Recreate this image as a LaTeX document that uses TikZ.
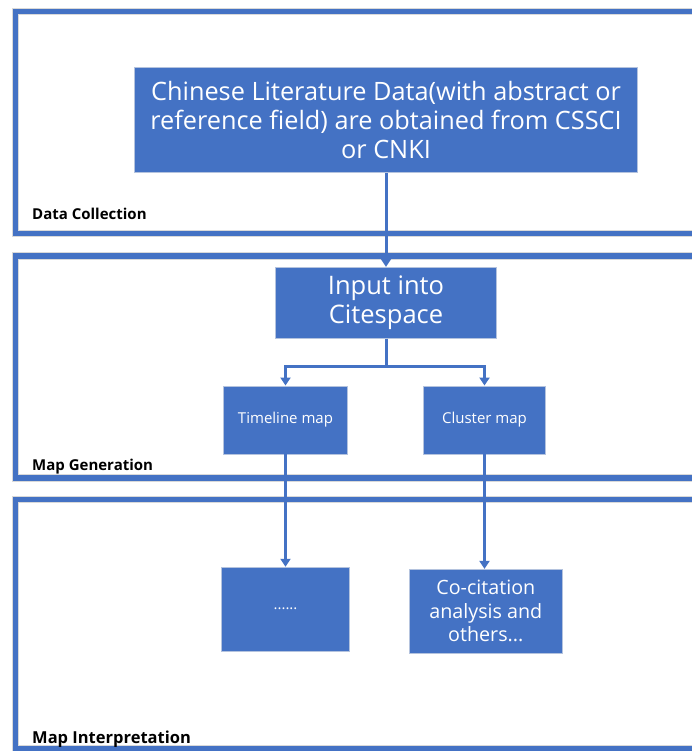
\documentclass[tikz,border=0pt]{standalone}
\usepackage{fontspec}
\setmainfont{Open Sans}
\usetikzlibrary{positioning, arrows.meta}

\definecolor{officeblue}{HTML}{4472C4}
\definecolor{edgeblue}{HTML}{B4C3DE}

\tikzset{
    stage/.style={draw=officeblue, line width=5.2pt,
        preaction={draw=black!15, line width=7.2pt},
        minimum width=714.5pt, inner sep=0pt},
    stagelabel/.style={font=\bfseries\fontsize{15}{18}\selectfont,
        anchor=base west, inner sep=0pt},
    box/.style={fill=officeblue, draw=edgeblue, line width=0.9pt,
        text=white, align=center, inner sep=0pt},
    smalltext/.style={font=\fontsize{15}{18}\selectfont},
    link/.style={draw=officeblue, line width=3pt},
    arrow/.style={link, -{Triangle[width=10pt, length=8pt]}}
}

\begin{document}
\begin{tikzpicture}[x=1pt, y=-1pt]

\clip (0, 0) rectangle (692, 751);
\fill[white] (0, 0) rectangle (692, 751);

% stages
\foreach \name/\cy/\h/\ly/\size/\title in {
    collection/122.7/222/219/15/Data Collection,
    generation/367/222/470/15/Map Generation,
    interpretation/624.3/249.5/743/16.5/Map Interpretation} {
    \node[stage, minimum height=\h pt] (\name) at (372.75, \cy) {};
    \node[stagelabel, font=\bfseries\fontsize{\size}{18}\selectfont] (\name-label) at (32, \ly) {\title};
}

% data source
\node[box, font=\fontsize{25.3}{29}\selectfont, minimum width=503pt, minimum height=105pt] (data) at (386, 120.2)
    {Chinese Literature Data(with abstract or\\reference field) are obtained from CSSCI\\or CNKI};

% citespace
\node[box, font=\fontsize{25.5}{29}\selectfont, minimum width=221pt, minimum height=71pt] (citespace) at (386, 302.8)
    {Input into\\Citespace};

% maps
\node[box, smalltext, minimum width=124pt, minimum height=68pt] (timeline) at (285.5, 420) {Timeline map};
\node[box, smalltext, minimum width=122pt, minimum height=68pt] (cluster) at (484.5, 420) {Cluster map};

% interpretation
\node[box, smalltext, minimum width=128pt, minimum height=84pt] (dots) at (285.5, 609.2) {......};
\node[box, font=\fontsize{19.7}{23.5}\selectfont, minimum width=153pt, minimum height=84pt] (cocite) at (485.8, 611.3)
    {Co-citation\\analysis and\\others...};

% connect the stages
\draw[arrow] (data.south) -- (citespace.north);
\draw[arrow] (citespace.south) -- ++(0, 27.5) -| (timeline.north);
\draw[arrow] (citespace.south) -- ++(0, 27.5) -| (cluster.north);
\draw[arrow] (timeline.south) -- (dots.north);
\draw[arrow] (cluster.south) -- (cluster.south |- cocite.north);

\end{tikzpicture}
\end{document}
